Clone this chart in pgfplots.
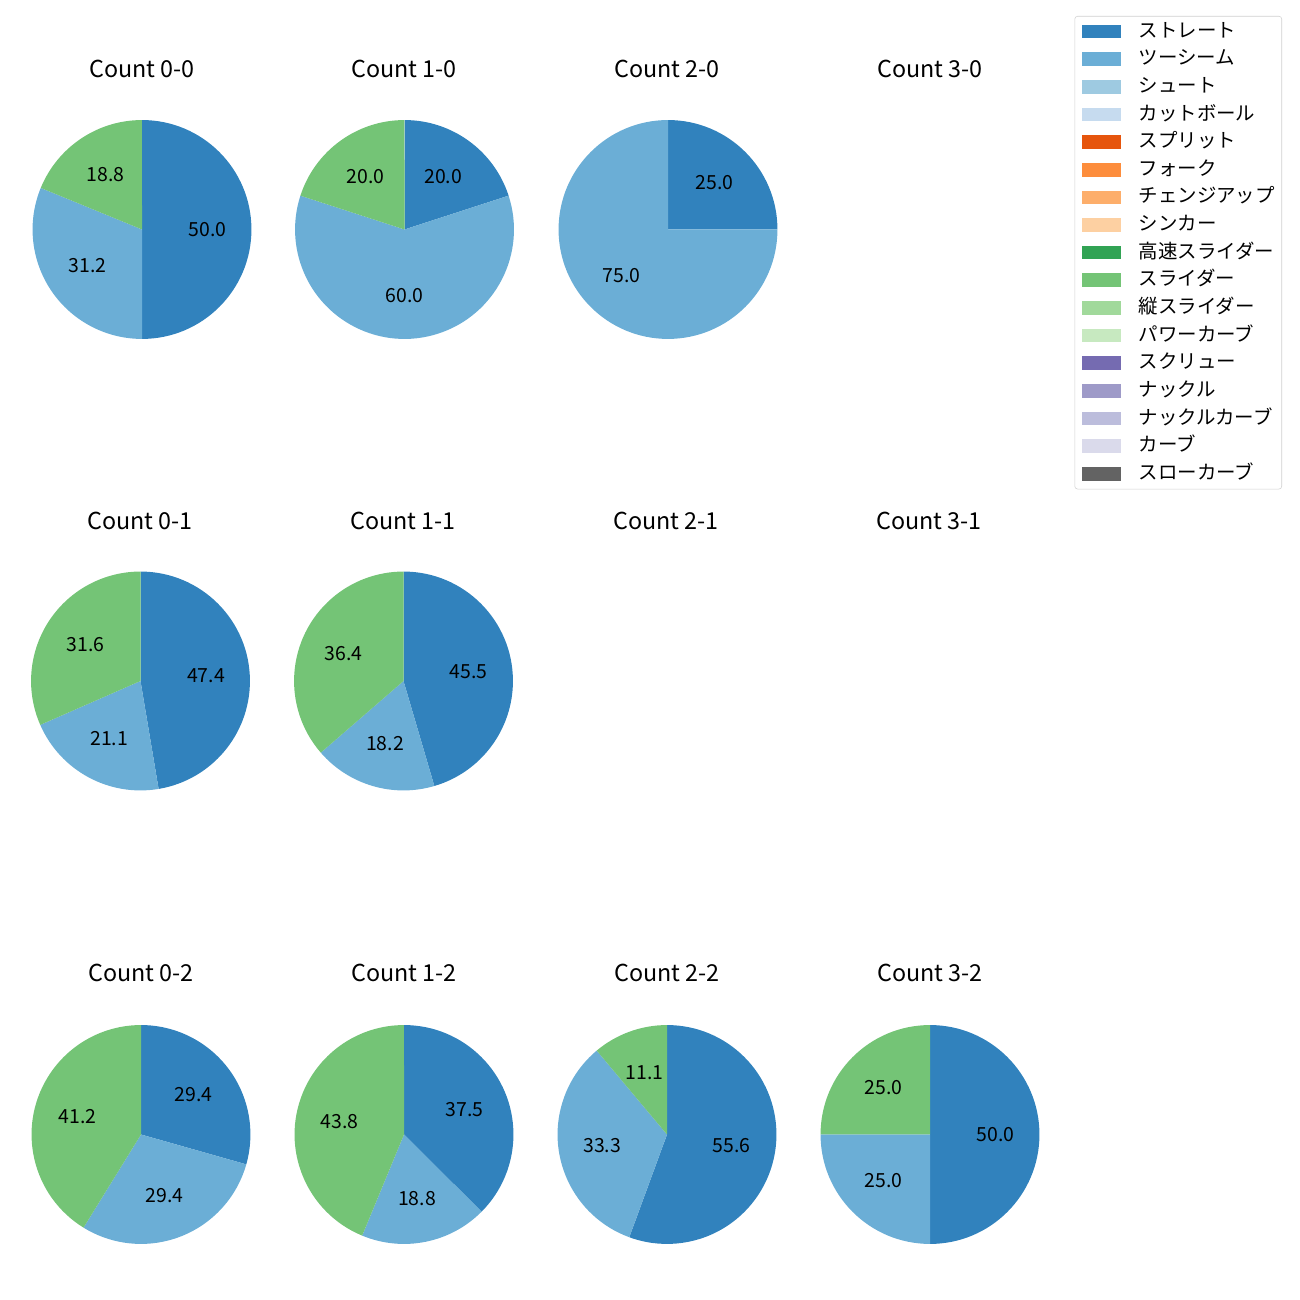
\documentclass[border=0pt]{standalone}
\usepackage{pgfplots}
\pgfplotsset{compat=1.18}
\usepackage{fontspec}
\setmainfont{Noto Sans CJK JP}
\definecolor{cS}{HTML}{3182BD}
\definecolor{cT}{HTML}{6BAED6}
\definecolor{cShu}{HTML}{9ECAE1}
\definecolor{cCut}{HTML}{C6DBEF}
\definecolor{cSpl}{HTML}{E6550D}
\definecolor{cFork}{HTML}{FD8D3C}
\definecolor{cChg}{HTML}{FDAE6B}
\definecolor{cSink}{HTML}{FDD0A2}
\definecolor{cHSl}{HTML}{31A354}
\definecolor{cSl}{HTML}{74C476}
\definecolor{cVSl}{HTML}{A1D99B}
\definecolor{cPC}{HTML}{C7E9C0}
\definecolor{cScr}{HTML}{756BB1}
\definecolor{cKn}{HTML}{9E9AC8}
\definecolor{cKC}{HTML}{BCBDDC}
\definecolor{cCv}{HTML}{DADAEB}
\definecolor{cSC}{HTML}{636363}
\def\pieR{78.8pt}
\def\pieL{47.3pt}
% #1 centre x (px), #2 centre y (px from top), #3 list value/colour
\newcommand{\piechart}[3]{%
  \pgfmathsetmacro\piecy{1300-#2}%
  \gdef\piesum{0}%
  \foreach \pv/\pc in {#3}{\pgfmathsetmacro\pietmp{\piesum+\pv}\global\let\piesum\pietmp}%
  \gdef\piecum{90}%
  \foreach \pv/\pc in {#3}{%
    \pgfmathsetmacro\pieend{\piecum-\pv/\piesum*360}%
    \edef\doit{\noexpand\fill[\pc] (axis cs:#1,\piecy) -- ++(\piecum:\pieR) arc[start angle=\piecum, end angle=\pieend, radius=\pieR] -- cycle;}%
    \doit
    \global\let\piecum\pieend
  }%
  \gdef\piecum{90}%
  \foreach \pv/\pc in {#3}{%
    \pgfmathsetmacro\pieend{\piecum-\pv/\piesum*360}%
    \pgfmathsetmacro\piemid{(\piecum+\pieend)/2}%
    \edef\doit{\noexpand\path (axis cs:#1,\piecy) ++(\piemid:\pieL) node[font=\noexpand\fontsize{14}{16}\noexpand\selectfont, inner sep=0pt] {\pv};}%
    \doit
    \global\let\piecum\pieend
  }%
}
\newcommand{\pietitle}[3]{\node[font=\fontsize{16.8}{19}\selectfont, inner sep=0pt] at (axis cs:#1,1300-#2) {#3};}
\begin{document}
\begin{tikzpicture}
\begin{axis}[
  scale only axis, width=936pt, height=936pt,
  xmin=0, xmax=1300, ymin=0, ymax=1300,
  hide axis, clip=false,
  legend image code/.code={\fill[#1, draw=none, sharp corners] (0pt,-4.9pt) rectangle (28pt,4.9pt);},
  legend cell align=left,
  legend style={at={(1282/1300,1284/1300)}, anchor=north east,
    draw=black!18, rounded corners=2pt, fill=white,
    font=\fontsize{14}{16}\selectfont,
    inner xsep=5pt, inner ysep=5pt,
    row sep=7.9pt,
    nodes={inner sep=0pt, text height=10pt, text depth=2pt},
    /tikz/every odd column/.append style={column sep=13pt},
    /tikz/every even column/.append style={column sep=0pt}},
]
\path (axis cs:0,0) rectangle (axis cs:1300,1300);
\addlegendimage{fill=cS}\addlegendentry{ストレート}
\addlegendimage{fill=cT}\addlegendentry{ツーシーム}
\addlegendimage{fill=cShu}\addlegendentry{シュート}
\addlegendimage{fill=cCut}\addlegendentry{カットボール}
\addlegendimage{fill=cSpl}\addlegendentry{スプリット}
\addlegendimage{fill=cFork}\addlegendentry{フォーク}
\addlegendimage{fill=cChg}\addlegendentry{チェンジアップ}
\addlegendimage{fill=cSink}\addlegendentry{シンカー}
\addlegendimage{fill=cHSl}\addlegendentry{高速スライダー}
\addlegendimage{fill=cSl}\addlegendentry{スライダー}
\addlegendimage{fill=cVSl}\addlegendentry{縦スライダー}
\addlegendimage{fill=cPC}\addlegendentry{パワーカーブ}
\addlegendimage{fill=cScr}\addlegendentry{スクリュー}
\addlegendimage{fill=cKn}\addlegendentry{ナックル}
\addlegendimage{fill=cKC}\addlegendentry{ナックルカーブ}
\addlegendimage{fill=cCv}\addlegendentry{カーブ}
\addlegendimage{fill=cSC}\addlegendentry{スローカーブ}

\piechart{142}{229.5}{50.0/cS, 31.2/cT, 18.8/cSl}
\piechart{404.5}{229.5}{20.0/cS, 60.0/cT, 20.0/cSl}
\piechart{668}{229.5}{25.0/cS, 75.0/cT}
\piechart{140.5}{681}{47.4/cS, 21.1/cT, 31.6/cSl}
\piechart{403.5}{681}{45.5/cS, 18.2/cT, 36.4/cSl}
\piechart{141}{1134.5}{29.4/cS, 29.4/cT, 41.2/cSl}
\piechart{404}{1134.5}{37.5/cS, 18.8/cT, 43.8/cSl}
\piechart{667}{1134.5}{55.6/cS, 33.3/cT, 11.1/cSl}
\piechart{930}{1134.5}{50.0/cS, 25.0/cT, 25.0/cSl}

\pietitle{142}{69}{Count 0-0}
\pietitle{404}{69}{Count 1-0}
\pietitle{667}{69}{Count 2-0}
\pietitle{930}{69}{Count 3-0}
\pietitle{140}{521}{Count 0-1}
\pietitle{403}{521}{Count 1-1}
\pietitle{666}{521}{Count 2-1}
\pietitle{929}{521}{Count 3-1}
\pietitle{141}{973}{Count 0-2}
\pietitle{404}{973}{Count 1-2}
\pietitle{667}{973}{Count 2-2}
\pietitle{930}{973}{Count 3-2}
\end{axis}
\end{tikzpicture}
\end{document}
